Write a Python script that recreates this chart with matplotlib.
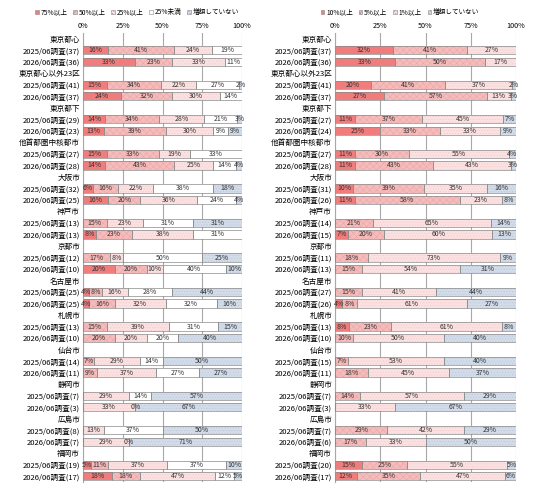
import numpy as np
import matplotlib
matplotlib.use("Agg")
import matplotlib.pyplot as plt
from matplotlib.patches import Patch

plt.rcParams['font.family'] = ['Noto Sans CJK JP', 'DejaVu Sans']
plt.rcParams['hatch.linewidth'] = 0.35

cities = ["東京都心", "東京都心以外23区", "東京都下", "他首都圏中核都市", "大阪市", "神戸市",
          "京都市", "名古屋市", "札幌市", "仙台市", "静岡市", "広島市", "福岡市"]

# sample sizes per survey (left: rent increase share, right: increase rate)
left_n_2025 = [37, 41, 29, 27, 32, 13, 12, 25, 13, 14, 7, 8, 19]
left_n_2026 = [36, 37, 23, 28, 25, 13, 10, 25, 10, 11, 3, 7, 17]
right_n_2025 = [37, 41, 27, 27, 31, 14, 11, 27, 13, 15, 7, 7, 20]
right_n_2026 = [36, 37, 24, 28, 26, 15, 13, 26, 10, 11, 3, 6, 17]

# rows in order: city1-2025, city1-2026, city2-2025, ...  (None = no segment)
left_names = ["75%以上", "50%以上", "25%以上", "25%未満", "増額していない"]
left_75 = [16, 33, 15, 24, 14, 13, 15, 14, 6, 16, None, 8, None, 20,
           4, 4, None, None, None, None, None, None, None, None, 5, 18]
left_50 = [41, 23, 34, 32, 34, 39, 33, 43, 16, 20, 15, 23, 17, 20,
           8, 16, 15, 20, 7, 9, None, None, None, None, 11, 18]
left_25 = [24, 33, 22, 30, 28, 30, 19, 25, 22, 36, 23, 38, 8, 10,
           16, 32, 39, 20, 29, 37, 29, 33, 13, 29, 37, 47]
left_lt25 = [19, 11, 27, 14, 21, 9, 33, 14, 38, 24, 31, 31, 50, 40,
             28, 32, 31, 20, 14, 27, 14, 0, 37, 0, 37, 12]
left_none = [None, None, 2, None, 3, 9, None, 4, 18, 4, 31, None, 25, 10,
             44, 16, 15, 40, 50, 27, 57, 67, 50, 71, 10, 5]

right_names = ["10%以上", "5%以上", "1%以上", "増額していない"]
right_10 = [32, 33, 20, 27, 11, 25, 11, 11, 10, 11, None, 7, None, None,
            None, 4, 8, None, None, None, None, None, None, None, 15, 12]
right_5 = [41, 50, 41, 57, 37, 33, 30, 43, 39, 58, 21, 20, 18, 15,
           15, 8, 23, 10, 7, 18, 14, None, 29, 17, 25, 35]
right_1 = [27, 17, 37, 13, 45, 33, 55, 43, 35, 23, 65, 60, 73, 54,
           41, 61, 61, 50, 53, 45, 57, 33, 42, 33, 55, 47]
right_none = [None, None, 2, 3, 7, 9, 4, 3, 16, 8, 14, 13, 9, 31,
              44, 27, 8, 40, 40, 37, 29, 67, 29, 50, 5, 6]

RED = ("#f07c7c", None, "#f07c7c")
MID = ("#f6bcbc", "xxxxx", "#eaa4a4")
LIGHT = ("#fbe1e1", "......", "#f3caca")
WHITE = ("#ffffff", None, "#ffffff")
BLUE = ("#d3dce9", "......", "#b8c5da")


def draw_panel(ax, series, names, styles, n25, n26):
    ylabels = []
    for i, c in enumerate(cities):
        ylabels += [c, f"2025/06調査({n25[i]})", f"2026/06調査({n26[i]})"]
    bar_rows = [3 * i + k for i in range(len(cities)) for k in (1, 2)]

    left = np.zeros(len(bar_rows))
    for vals, (face, hatch, hcol) in zip(series, styles):
        w = np.array([0 if v is None else v for v in vals], dtype=float)
        ax.barh(bar_rows, w, left=left, height=0.72, color=face, hatch=hatch,
                edgecolor=hcol, linewidth=0, zorder=2)
        ax.barh(bar_rows, w, left=left, height=0.72, fill=False,
                edgecolor="#8a8a8a", linewidth=0.5, zorder=3)
        for y, l, v in zip(bar_rows, left, vals):
            if v is None:
                continue
            ax.text(l + v / 2, y, f"{v}%", ha="center", va="center",
                    fontsize=5, color="#333333", zorder=4)
        left += w

    ax.set_xlim(0, 100)
    ax.set_ylim(len(ylabels) - 0.5, -0.5)
    ax.set_yticks(range(len(ylabels)))
    ax.set_yticklabels(ylabels, fontsize=5.5)
    ax.xaxis.tick_top()
    ax.set_xticks([0, 25, 50, 75, 100])
    ax.set_xticklabels(["0%", "25%", "50%", "75%", "100%"], fontsize=5.2)
    ax.tick_params(length=0, pad=2)
    ax.grid(axis="x", color="#a8a8a8", linewidth=0.8, zorder=0)
    for s in ("top", "right", "bottom"):
        ax.spines[s].set_visible(False)
    ax.spines["left"].set_color("#a8a8a8")

    handles = [Patch(facecolor=f, hatch=h, edgecolor="#8a8a8a", linewidth=0.4)
               for f, h, _ in styles]
    return handles


fig = plt.figure(figsize=(5.36, 4.90), dpi=100)
axl = fig.add_axes([83 / 536, 1 - 482 / 490, 159 / 536, 449 / 490])
axr = fig.add_axes([335 / 536, 1 - 482 / 490, 181 / 536, 449 / 490])

hl = draw_panel(axl, [left_75, left_50, left_25, left_lt25, left_none], left_names,
                [RED, MID, LIGHT, WHITE, BLUE], left_n_2025, left_n_2026)
hr = draw_panel(axr, [right_10, right_5, right_1, right_none], right_names,
                [RED, MID, LIGHT, BLUE], right_n_2025, right_n_2026)

leg_kw = dict(loc="center", frameon=False, fontsize=4.8, handlelength=0.55,
              handleheight=0.55, handletextpad=0.25, columnspacing=0.9)
fig.legend(hl, left_names, ncol=5, bbox_to_anchor=(137 / 536, 1 - 12 / 490), **leg_kw)
fig.legend(hr, right_names, ncol=4, bbox_to_anchor=(400 / 536, 1 - 12 / 490), **leg_kw)

fig.savefig("out.png", dpi=100, facecolor="white")
